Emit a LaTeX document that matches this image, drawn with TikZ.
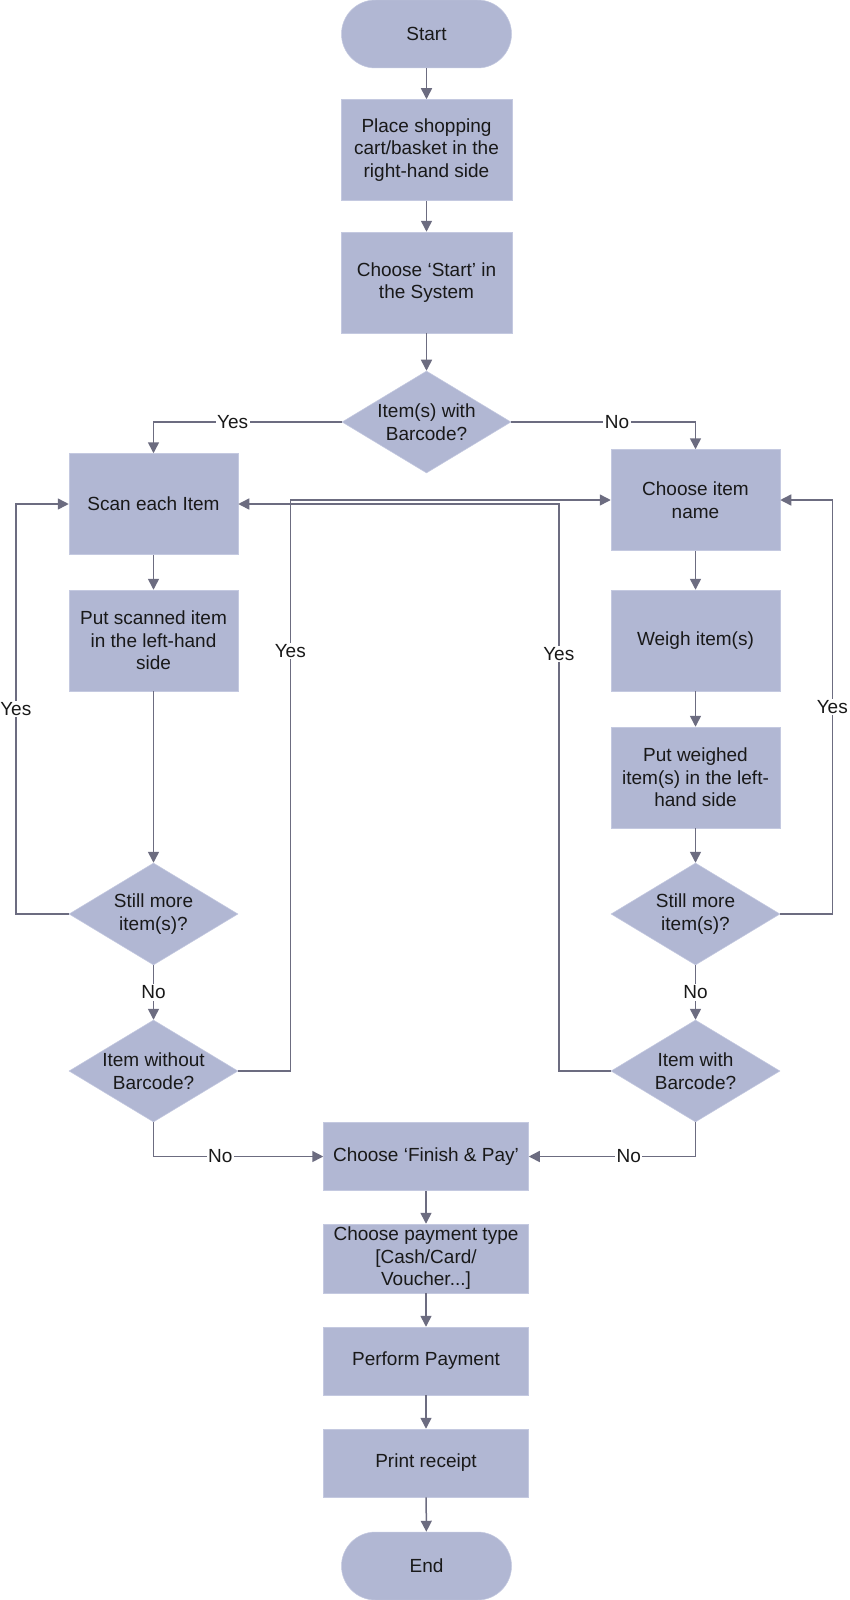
\documentclass[tikz,border=0pt]{standalone}
\usepackage{fontspec}
\setmainfont{Liberation Sans}
\usetikzlibrary{shapes.geometric,arrows.meta}
\definecolor{boxfill}{RGB}{177,183,211}
\definecolor{boxline}{RGB}{196,201,224}
\definecolor{conn}{RGB}{108,108,128}
\definecolor{txt}{RGB}{25,25,25}
\begin{document}
\begin{tikzpicture}[x=1pt,y=-1pt,
  font=\fontsize{19}{22.5}\selectfont, text=txt,
  procbox/.style={rectangle, fill=boxfill, draw=boxline, line width=0.5pt,
    minimum width=169pt, minimum height=101pt, inner sep=2pt, align=center},
  widebox/.style={procbox, minimum width=205pt, minimum height=68pt},
  termbox/.style={rectangle, rounded corners=34pt, fill=boxfill, draw=boxline, line width=0.5pt,
    minimum width=170pt, minimum height=68pt, inner sep=2pt, align=center},
  decbox/.style={diamond, fill=boxfill, draw=boxline, line width=0.5pt,
    minimum width=169pt, minimum height=102pt, inner sep=0pt},
  arr/.style={draw=conn, line width=1.5pt, -{Triangle[length=11pt,width=11pt]}},
  lab/.style={fill=white, inner sep=1.5pt, text=txt}
]
\useasboundingbox[fill=white] (0,0) rectangle (849,1600);

% main column
\node[termbox] (start) at (426.5,34) {Start};
\node[procbox, minimum width=171pt] (place) at (426.5,150) {Place shopping\\cart/basket in the\\right-hand side};
\node[procbox, minimum width=171pt] (chstart) at (426.5,282.5) {Choose ‘Start’ in\\the System};
\node[decbox, label={[align=center,text=txt]center:Item(s) with\\Barcode?}] (dq) at (426.5,422) {};

% left column
\node[procbox] (scan) at (153.5,504) {Scan each Item};
\node[procbox] (putscan) at (153.5,640.5) {Put scanned item\\in the left-hand\\side};
\node[decbox, label={[align=center,text=txt]center:Still more\\item(s)?}] (sl) at (153.5,914) {};
\node[decbox, label={[align=center,text=txt]center:Item without\\Barcode?}] (dwo) at (153.5,1071) {};

% right column
\node[procbox] (name) at (695.5,500) {Choose item\\name};
\node[procbox] (weigh) at (695.5,640.5) {Weigh item(s)};
\node[procbox] (putweigh) at (695.5,777.5) {Put weighed\\item(s) in the left-\\hand side};
\node[decbox, label={[align=center,text=txt]center:Still more\\item(s)?}] (sr) at (695.5,914) {};
\node[decbox, label={[align=center,text=txt]center:Item with\\Barcode?}] (dw) at (695.5,1071) {};

% bottom column
\node[widebox] (finish) at (426,1156.5) {Choose ‘Finish \& Pay’};
\node[widebox, minimum height=69pt] (paytype) at (426,1258.5) {Choose payment type\\{[}Cash/Card/\\Voucher...{]}};
\node[widebox] (perform) at (426,1361) {Perform Payment};
\node[widebox] (print) at (426,1463) {Print receipt};
\node[termbox] (end) at (426.5,1566) {End};

% connectors
\draw[arr] (start) -- (place);
\draw[arr] (place) -- (chstart);
\draw[arr] (chstart) -- (dq);
\draw[arr] (dq.west) -| node[pos=0.29, lab] {Yes} (scan.north);
\draw[arr] (dq.east) -| node[pos=0.287, lab] {No} (name.north);

\draw[arr] (scan) -- (putscan);
\draw[arr] (putscan) -- (sl);
\draw[arr] (sl.west) -- ++(-53,0) |- node[pos=0.25, lab] {Yes} (scan.west);
\draw[arr] (sl) -- node[midway, lab] {No} (dwo);
\draw[arr] (dwo.east) -- ++(52,0) |- node[pos=0.368, lab] {Yes} (name.west);

\draw[arr] (name) -- (weigh);
\draw[arr] (weigh) -- (putweigh);
\draw[arr] (putweigh) -- (sr);
\draw[arr] (sr.east) -- ++(52,0) |- node[pos=0.25, lab] {Yes} (name.east);
\draw[arr] (sr) -- node[midway, lab] {No} (dw);
\draw[arr] (dw.west) -- ++(-52,0) |- node[pos=0.368, lab] {Yes} (scan.east);

\draw[arr] (dwo.south) |- node[pos=0.697, lab] {No} (finish.west);
\draw[arr] (dw.south) |- node[pos=0.70, lab] {No} (finish.east);

\draw[arr] (finish) -- (paytype);
\draw[arr] (paytype) -- (perform);
\draw[arr] (perform) -- (print);
\draw[arr] (print) -- (end);
\end{tikzpicture}
\end{document}
